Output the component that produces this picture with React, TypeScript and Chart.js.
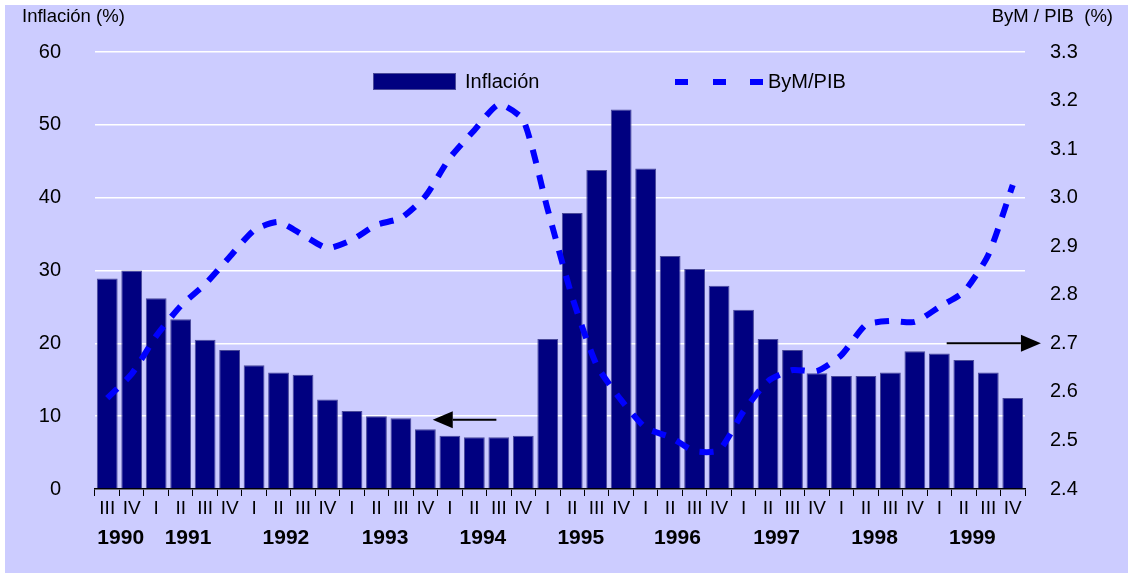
import React, { useEffect, useRef } from "react";
import { Chart, registerables } from "chart.js";

Chart.register(...registerables);

const quarters = [
  "III", "IV",
  "I", "II", "III", "IV",
  "I", "II", "III", "IV",
  "I", "II", "III", "IV",
  "I", "II", "III", "IV",
  "I", "II", "III", "IV",
  "I", "II", "III", "IV",
  "I", "II", "III", "IV",
  "I", "II", "III", "IV",
  "I", "II", "III", "IV",
];

const inflacion = [
  28.9, 30.0,
  26.2, 23.3, 20.5, 19.1,
  17.0, 16.0, 15.7, 12.3,
  10.7, 10.0, 9.7, 8.2,
  7.3, 7.1, 7.1, 7.3,
  20.6, 37.9, 43.8, 52.1,
  44.0, 32.0, 30.2, 27.9,
  24.6, 20.6, 19.1, 15.9,
  15.5, 15.5, 16.0, 18.9,
  18.6, 17.7, 16.0, 12.5,
];

const bymPib = [
  2.587, 2.637,
  2.715, 2.777, 2.822, 2.878,
  2.933, 2.95, 2.923, 2.896,
  2.913, 2.944, 2.958, 3.003,
  3.082, 3.139, 3.192, 3.16,
  2.975, 2.795, 2.655, 2.583,
  2.526, 2.507, 2.478, 2.48,
  2.56, 2.622, 2.645, 2.643,
  2.676, 2.738, 2.746, 2.744,
  2.775, 2.806, 2.882, 3.026,
];

const years = ["1990", "1991", "1992", "1993", "1994", "1995", "1996", "1997", "1998", "1999"];
// category index (fractional) at which each year label is centred
const yearCenters = [0.55, 3.3, 7.3, 11.35, 15.35, 19.35, 23.3, 27.35, 31.35, 35.35];

const leftTitle = "Inflación (%)";
const rightTitle = "ByM / PIB  (%)";
const legendBar = "Inflación";
const legendLine = "ByM/PIB";

// annotation arrows: category index range and axis value
const arrowLeft = { from: 15.9, to: 13.3, value: 9.5 };
const arrowRight = { from: 34.3, to: 38.15, value: 2.7 };

const FONT = "'Liberation Sans', Arial, sans-serif";
const NAVY = "#000080";
const BLUE = "#0000FF";

function drawArrow(ctx: CanvasRenderingContext2D, x1: number, y: number, x2: number) {
  const dir = x2 > x1 ? 1 : -1;
  const headLen = 20;
  const half = 8.5;
  ctx.save();
  ctx.strokeStyle = "#000";
  ctx.fillStyle = "#000";
  ctx.lineWidth = 2;
  ctx.beginPath();
  ctx.moveTo(x1, y);
  ctx.lineTo(x2 - dir * headLen, y);
  ctx.stroke();
  ctx.beginPath();
  ctx.moveTo(x2, y);
  ctx.lineTo(x2 - dir * headLen, y - half);
  ctx.lineTo(x2 - dir * headLen, y + half);
  ctx.closePath();
  ctx.fill();
  ctx.restore();
}

const decorPlugin = {
  id: "decor",
  afterDraw(chart: any) {
    const ctx: CanvasRenderingContext2D = chart.ctx;
    const x = chart.scales.x;
    const y = chart.scales.y;
    const y1 = chart.scales.y1;
    ctx.save();
    // axis titles
    ctx.fillStyle = "#000";
    ctx.font = `18.5px ${FONT}`;
    ctx.textBaseline = "middle";
    ctx.textAlign = "left";
    ctx.fillText(leftTitle, 22, 17);
    ctx.textAlign = "right";
    ctx.fillText(rightTitle, 1113, 17);

    // years
    ctx.font = `bold 21px ${FONT}`;
    ctx.textAlign = "center";
    years.forEach((yr, i) => {
      ctx.fillText(yr, x.getPixelForValue(yearCenters[i]), 538);
    });

    // legend
    ctx.fillStyle = NAVY;
    ctx.fillRect(373, 73, 83, 17);
    ctx.strokeStyle = "#4a4a9a";
    ctx.lineWidth = 1;
    ctx.strokeRect(373.5, 73.5, 82, 16);
    ctx.fillStyle = "#000";
    ctx.font = `20px ${FONT}`;
    ctx.textAlign = "left";
    ctx.fillText(legendBar, 465, 82);
    ctx.fillStyle = BLUE;
    [675, 713, 750].forEach((dx) => ctx.fillRect(dx, 79, 13, 6));
    ctx.fillStyle = "#000";
    ctx.fillText(legendLine, 768, 82);

    // arrows
    drawArrow(ctx, x.getPixelForValue(arrowLeft.from), y.getPixelForValue(arrowLeft.value), x.getPixelForValue(arrowLeft.to));
    drawArrow(ctx, x.getPixelForValue(arrowRight.from), y1.getPixelForValue(arrowRight.value), x.getPixelForValue(arrowRight.to));
    ctx.restore();
  },
};

export default function App() {
  const ref = useRef<HTMLCanvasElement>(null);
  useEffect(() => {
    if (!ref.current) return;
    const chart = new Chart(ref.current, {
      type: "bar",
      data: {
        labels: quarters,
        datasets: [
          {
            type: "line",
            label: legendLine,
            data: bymPib,
            yAxisID: "y1",
            borderColor: BLUE,
            borderWidth: 6,
            borderDash: [14, 12],
            pointRadius: 0,
            tension: 0.2,
            fill: false,
            order: 0,
          } as any,
          {
            type: "bar",
            label: legendBar,
            data: inflacion,
            yAxisID: "y",
            backgroundColor: NAVY,
            borderColor: "#4a4a9a",
            borderWidth: 1,
            barPercentage: 0.85,
            categoryPercentage: 1,
            order: 1,
          },
        ],
      },
      options: {
        animation: false,
        responsive: false,
        devicePixelRatio: 1,
        layout: { padding: { top: 52, bottom: 32, left: 0, right: 0 } },
        plugins: { legend: { display: false }, tooltip: { enabled: false } },
        scales: {
          x: {
            offset: true,
            grid: {
              display: true,
              offset: true,
              drawOnChartArea: false,
              drawTicks: true,
              tickLength: 7,
              color: "#000",
              lineWidth: 1,
            },
            border: { display: true, color: "#000", width: 1.5 },
            ticks: {
              color: "#000",
              font: { family: FONT, size: 19 },
              padding: 1,
              maxRotation: 0,
              autoSkip: false,
            },
            afterFit: (s: any) => { s.height = 60; },
          },
          y: {
            position: "left",
            min: 0,
            max: 60,
            ticks: {
              stepSize: 10,
              color: "#000",
              font: { family: FONT, size: 20 },
              padding: 34,
            },
            grid: { color: "#FFFFFF", lineWidth: 1.5, drawTicks: false },
            border: { display: false },
            afterFit: (s: any) => { s.width = 95; },
          },
          y1: {
            position: "right",
            min: 2.4,
            max: 3.3,
            ticks: {
              stepSize: 0.1,
              color: "#000",
              font: { family: FONT, size: 20 },
              padding: 25,
              callback: (v: any) => Number(v).toFixed(1),
            },
            grid: { display: false, drawTicks: false },
            border: { display: false },
            afterFit: (s: any) => { s.width = 103; },
          },
        },
      },
      plugins: [decorPlugin],
    });
    return () => chart.destroy();
  }, []);

  return (
    <div style={{ position: "fixed", left: 0, top: 0, width: 1128, height: 581, background: "#FFFFFF" }}>
      <div style={{ position: "absolute", left: 5, top: 5, width: 1123, height: 568, background: "#CCCCFF" }} />
      <canvas ref={ref} width={1128} height={581} style={{ position: "absolute", left: 0, top: 0, display: "block" }} />
    </div>
  );
}
